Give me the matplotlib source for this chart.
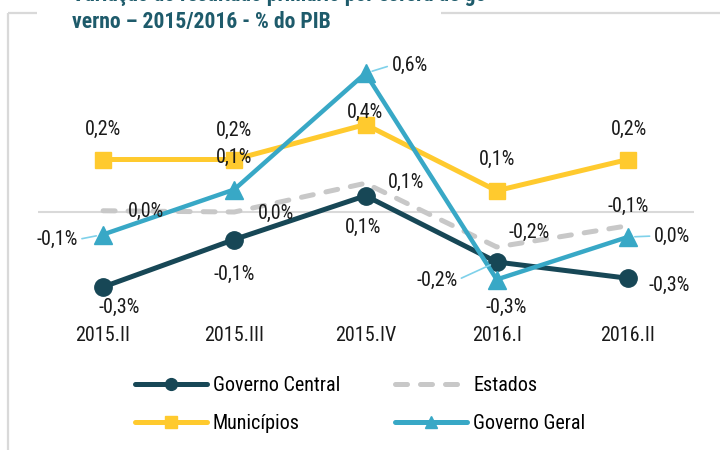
import matplotlib
matplotlib.use("Agg")
import matplotlib.pyplot as plt
from matplotlib import font_manager
from matplotlib.font_manager import FontProperties
from matplotlib.lines import Line2D

# dados (% do PIB)
quarters = ["2015.II", "2015.III", "2015.IV", "2016.I", "2016.II"]
governo_central = [-0.30, -0.11, 0.065, -0.20, -0.265]
estados = [0.005, 0.0, 0.115, -0.14, -0.055]
municipios = [0.21, 0.21, 0.35, 0.085, 0.21]
governo_geral = [-0.09, 0.09, 0.555, -0.27, -0.10]

# rótulos como aparecem no gráfico
gc_labels = ["-0,3%", "-0,1%", "0,1%", "-0,2%", "-0,3%"]
est_labels = ["0,0%", "0,0%", "0,1%", "-0,2%", "-0,1%"]
mun_labels = ["0,2%", "0,2%", "0,4%", "0,1%", "0,2%"]
gg_labels = ["-0,1%", "0,1%", "0,6%", "-0,3%", "0,0%"]

# posição dos rótulos (pixels relativos ao ponto) e se têm linha de chamada
gc_off = [(16, -20), (0, -35), (-2, -32), (-60, -18), (41, -7)]
est_off = [(43, -1), (42, -1), (41, 1), (32, 15), (0, 19)]
mun_off = [(0, 30), (0, 29), (-1, 12), (0, 31), (1, 30)]
gg_off = [(-46, -5), (0, 32), (44, 8), (9, -28), (44, 1)]
gc_leader = [False, False, False, True, False]
est_leader = [False] * 5
mun_leader = [False] * 5
gg_leader = [True, False, True, False, True]

C_GC = "#174756"
C_EST = "#c8c8c8"
C_MUN = "#ffca2e"
C_GG = "#38a8c6"
C_TITLE = "#1e5b6b"
C_LEADER = "#7fd1ea"


def is_regular(f, bold=False):
    w = f.weight if isinstance(f.weight, int) else {"normal": 400, "regular": 400, "bold": 700}.get(f.weight, 400)
    return f.style == "normal" and (w >= 700 if bold else 350 <= w <= 450)


def pick_font(bold=False):
    """Procura uma fonte estreita parecida com Arial Narrow."""
    entries = font_manager.fontManager.ttflist
    for name in ["Liberation Sans Narrow", "Arial Narrow", "Roboto Condensed",
                 "Open Sans Condensed", "Noto Sans Condensed"]:
        for f in entries:
            if f.name == name and is_regular(f, bold):
                return FontProperties(fname=f.fname)
    for name in ["Roboto", "Noto Sans", "Open Sans", "DejaVu Sans"]:
        for f in entries:
            if f.name == name and f.stretch in ("condensed", "semi-condensed") and is_regular(f, bold):
                return FontProperties(fname=f.fname)
    return FontProperties(family="Liberation Sans", weight="bold" if bold else "normal")


W, H = 720, 450
fig = plt.figure(figsize=(W / 100, H / 100), dpi=100)
renderer = fig.canvas.get_renderer()


def fit_size(fp, text, target_px):
    t = fig.text(0, 0, text, fontproperties=fp, fontsize=20)
    w = t.get_window_extent(renderer).width
    t.remove()
    return 20 * target_px / w


fp_reg = pick_font()
fp_bold = pick_font(bold=True)
FS = fit_size(fp_reg, "Governo Central", 127)
TFS = fit_size(fp_bold, "verno – 2015/2016 - % do PIB", 258)
fp_reg.set_size(FS)
fp_bold.set_size(TFS)
fspx = FS * 100 / 72


def fx(px):
    return px / W


def fy(py):
    return 1 - py / H


# moldura cinza
frame = dict(color="#d9d9d9", lw=1.6, solid_capstyle="butt")
fig.add_artist(Line2D([fx(8), fx(8)], [fy(13), 0], **frame))
fig.add_artist(Line2D([fx(8), fx(37)], [fy(13), fy(13)], **frame))
fig.add_artist(Line2D([fx(441), 1], [fy(13), fy(13)], **frame))

# título (primeira linha cortada no topo)
fig.text(fx(72), fy(0.5), "Variação do resultado primário por esfera de go-",
         fontproperties=fp_bold, color=C_TITLE, va="baseline")
fig.text(fx(72), fy(22), "verno – 2015/2016 - % do PIB",
         fontproperties=fp_bold, color=C_TITLE, va="center")

ax = fig.add_axes([fx(37.5), fy(312), (693.5 - 37.5) / W, (312 - 37) / H])
ax.set_xlim(-0.5, 4.5)
ax.set_ylim(-0.4, 0.7)
for s in ax.spines.values():
    s.set_visible(False)
ax.set_yticks([])
ax.set_xticks(range(len(quarters)), quarters)
ax.tick_params(axis="x", length=0, pad=10)
for lbl in ax.get_xticklabels():
    lbl.set_fontproperties(fp_reg)
    lbl.set_color("#1a1a1a")
ax.patch.set_alpha(0)
ax.axhline(0, color="#d9d9d9", lw=1.5, zorder=1)

x = list(range(len(quarters)))
ax.plot(x, governo_central, color=C_GC, lw=3.6, marker="o", ms=12.5,
        clip_on=False, zorder=3, solid_capstyle="round")
ax.plot(x, estados, color=C_EST, lw=3.6, ls=(0, (2.4, 2.6)),
        dash_capstyle="round", clip_on=False, zorder=2)
ax.plot(x, municipios, color=C_MUN, lw=3.6, marker="s", ms=12,
        clip_on=False, zorder=4, solid_capstyle="round")
ax.plot(x, governo_geral, color=C_GG, lw=3.2, marker="^", ms=12.5,
        clip_on=False, zorder=5, solid_capstyle="round")


def put_labels(vals, labels, offs, leaders):
    for i, (v, t, (dx, dy), ld) in enumerate(zip(vals, labels, offs, leaders)):
        kw = {}
        if ld:
            kw["arrowprops"] = dict(arrowstyle="-", color=C_LEADER, lw=1.2,
                                    shrinkA=1, shrinkB=5,
                                    relpos=(1, 0.5) if dx < 0 else (0, 0.5))
        ax.annotate(t, (i, v), xytext=(dx, dy), textcoords="offset pixels",
                    ha="center", va="center", fontproperties=fp_reg,
                    color="#1a1a1a", zorder=6, annotation_clip=False, **kw)


put_labels(governo_central, gc_labels, gc_off, gc_leader)
put_labels(estados, est_labels, est_off, est_leader)
put_labels(municipios, mun_labels, mun_off, mun_leader)
put_labels(governo_geral, gg_labels, gg_off, gg_leader)

# legenda com marcadores menores, como no original
h_gc = Line2D([], [], color=C_GC, lw=3.6, marker="o", ms=8.5, solid_capstyle="round")
h_est = Line2D([], [], color=C_EST, lw=3.6, ls=(0, (2.4, 2.6)), dash_capstyle="round")
h_mun = Line2D([], [], color=C_MUN, lw=3.6, marker="s", ms=8, solid_capstyle="round")
h_gg = Line2D([], [], color=C_GG, lw=3.6, marker="^", ms=8, solid_capstyle="round")
fig.legend([h_gc, h_mun, h_est, h_gg],
           ["Governo Central", "Municípios", "Estados", "Governo Geral"],
           ncol=2, loc="upper left", bbox_to_anchor=(fx(135), fy(385 - 0.45 * fspx)),
           frameon=False, prop=fp_reg, handlelength=72 / fspx,
           handletextpad=6 / fspx, columnspacing=55 / fspx,
           labelspacing=(38 - 0.95 * fspx) / fspx, borderpad=0,
           borderaxespad=0)

fig.savefig("out.png", dpi=100)
